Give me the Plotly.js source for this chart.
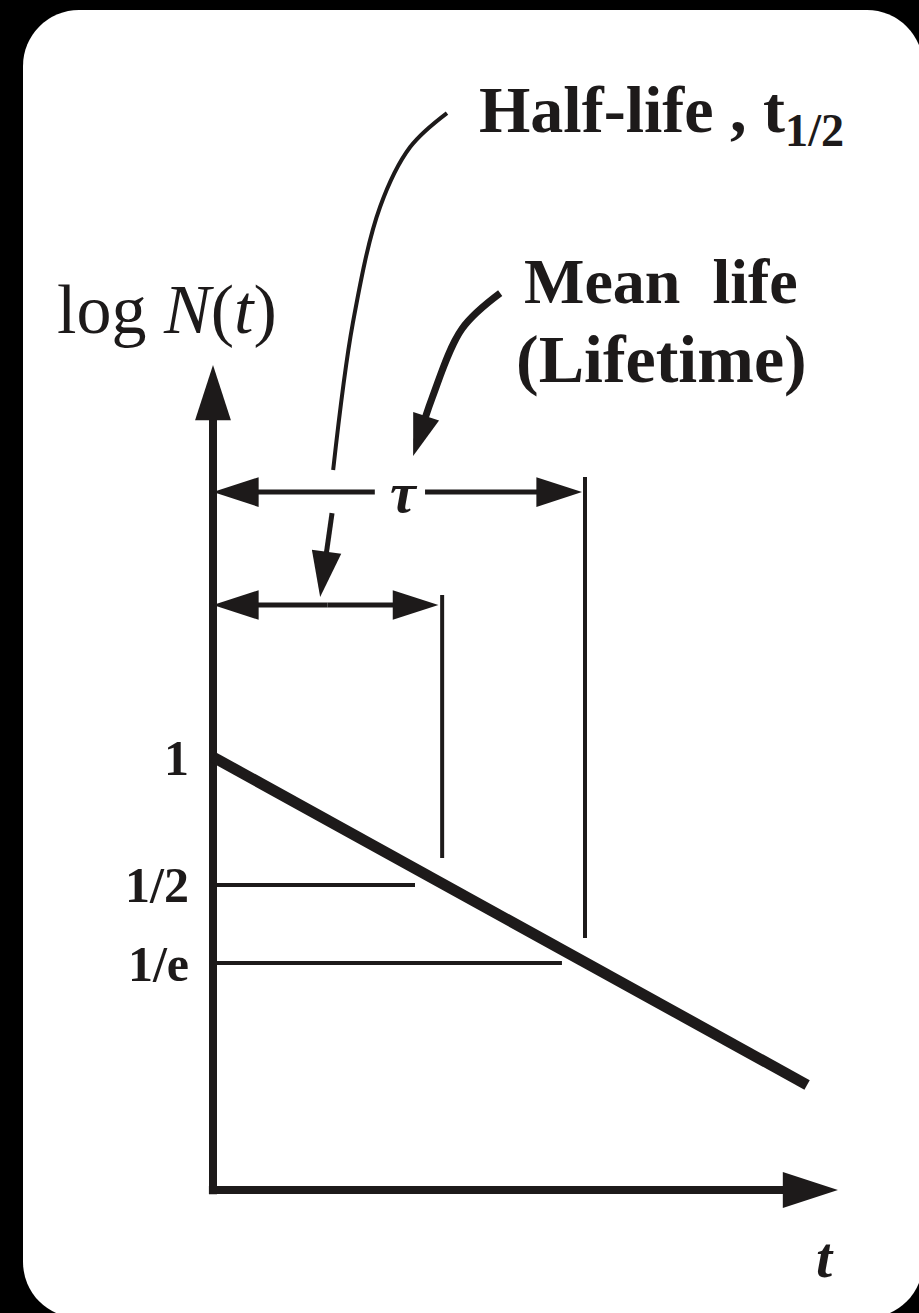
<!DOCTYPE html>
<html><head><meta charset="utf-8">
<script src="https://cdn.plot.ly/plotly-3.0.1.min.js"></script>
<style>
html,body{margin:0;padding:0;background:#000;width:919px;height:1313px;overflow:hidden;}
#card{position:absolute;left:23px;top:10px;width:900px;height:1308px;background:#fff;border-radius:56px;}
#chart{position:absolute;left:0;top:0;width:919px;height:1313px;}
</style></head><body>
<div id="card"></div><div id="chart"></div>
<script>
// ---------------- data (t in units of the mean life, y = log N as drawn) ----------------
const levelLabels = ['1', '1/2', '1/e'];
const levelValues = [0, -0.621, -1];
const halfLife = 0.616;
const meanLife = 1.0;
const decayT = [0, 1.597];
const decayLogN = [0, -1.592];
const axisEndT = 1.68;
const axisLowLogN = -2.102;
const axisTopLogN = 1.903;
const tauDimLogN = 1.286;
const tauGapT = [0.435, 0.570];
const halfDimLogN = 0.738;
const halfGuideLogN = [0.786, -0.490];
const tauGuideLogN = [1.359, -0.879];
const halfLevelEndT = 0.543;
const eLevelEndT = 0.938;
const halfLeaderT = [0.629, 0.530, 0.449, 0.376, 0.323];
const halfLeaderY = [3.126, 2.961, 2.670, 2.107, 1.393];
const halfPointerT = [0.320, 0.288];
const halfPointerY = [1.184, 0.777];
const meanLeaderT = [0.772, 0.669, 0.589, 0.538];
const meanLeaderY = [2.252, 2.078, 1.743, 1.461];

// ---------------- layout / scales ----------------
const W = 919, H = 1313;
const xRange = [-213 / 372, (W - 213) / 372];
const yRange = [(757 - H) / 206, 757 / 206];
const pxT = W / (xRange[1] - xRange[0]);
const pxY = H / (yRange[1] - yRange[0]);
const INK = '#1d1a1a';
const FONT = 'Liberation Serif, Times New Roman, serif';

function arrow(ts, ys, width, head, pull, shape) {
  const n = ts.length;
  const dt = ts[n - 1] - ts[n - 2], dy = ys[n - 1] - ys[n - 2];
  const L = Math.hypot(dt * pxT, dy * pxY);
  const f = pull / L;
  const lt = ts.slice(), ly = ys.slice();
  lt[n - 1] = ts[n - 1] - dt * f;
  ly[n - 1] = ys[n - 1] - dy * f;
  return [
    {type: 'scatter', mode: 'lines', x: lt, y: ly, hoverinfo: 'skip',
     line: {color: INK, width: width, shape: shape || 'linear'}},
    {type: 'scatter', mode: 'markers', x: [ts[n - 2], ts[n - 1]], y: [ys[n - 2], ys[n - 1]], hoverinfo: 'skip',
     marker: {symbol: 'arrow', size: [0, head], angleref: 'previous', color: INK, opacity: 1, line: {width: 0}}}
  ];
}
function seg(ts, ys, width) {
  return {type: 'scatter', mode: 'lines', x: ts, y: ys, hoverinfo: 'skip', line: {color: INK, width: width}};
}

const traces = [];
// axes
traces.push(...arrow([0, 0], [axisLowLogN - 0.02, axisTopLogN], 8, 58, 22));
traces.push(...arrow([-0.011, axisEndT], [axisLowLogN, axisLowLogN], 8, 58, 22));
// decay line
traces.push(seg(decayT, decayLogN, 11));
// level lines
traces.push(seg([0, halfLevelEndT], [levelValues[1], levelValues[1]], 4));
traces.push(seg([0, eLevelEndT], [levelValues[2], levelValues[2]], 4));
// guides
traces.push(seg([halfLife, halfLife], halfGuideLogN, 4));
traces.push(seg([meanLife, meanLife], tauGuideLogN, 4));
// tau dimension
traces.push(...arrow([tauGapT[0], 0], [tauDimLogN, tauDimLogN], 5, 48, 18));
traces.push(...arrow([tauGapT[1], meanLife - 0.008], [tauDimLogN, tauDimLogN], 5, 48, 18));
// half-life dimension
traces.push(...arrow([halfLife / 2, 0], [halfDimLogN, halfDimLogN], 5, 48, 18));
traces.push(...arrow([halfLife / 2, halfLife - 0.01], [halfDimLogN, halfDimLogN], 5, 48, 18));
// half-life leader
traces.push({type: 'scatter', mode: 'lines', x: halfLeaderT, y: halfLeaderY, hoverinfo: 'skip',
             line: {color: INK, width: 4, shape: 'spline', smoothing: 1}});
traces.push(...arrow(halfPointerT, halfPointerY, 5, 48, 18));
// mean-life leader
traces.push(...arrow(meanLeaderT, meanLeaderY, 7, 44, 16, 'spline'));

const tFont = (size, extra) => Object.assign({family: FONT, size: size, color: INK}, extra || {});
const annotations = [
  {x: -0.425, y: 2.17, xref: 'x', yref: 'y', xanchor: 'left', yanchor: 'middle', showarrow: false,
   text: 'log <i>N</i>(<i>t</i>)', font: tFont(70)},
  {x: 0.71, y: 3.12, xref: 'x', yref: 'y', xanchor: 'left', yanchor: 'middle', showarrow: false,
   text: 'Half-life , t<sub>1/2</sub>', font: tFont(66, {weight: 'bold'})},
  {x: 0.83, y: 2.31, xref: 'x', yref: 'y', xanchor: 'left', yanchor: 'middle', showarrow: false,
   text: 'Mean&nbsp; life', font: tFont(64, {weight: 'bold'})},
  {x: 0.81, y: 1.93, xref: 'x', yref: 'y', xanchor: 'left', yanchor: 'middle', showarrow: false,
   text: '(Lifetime)', font: tFont(68, {weight: 'bold'})},
  {x: 0.513, y: tauDimLogN, xref: 'x', yref: 'y', xanchor: 'center', yanchor: 'middle', showarrow: false,
   text: '<i>τ</i>', font: tFont(58, {weight: 'bold'})},
  {x: 1.645, y: -2.43, xref: 'x', yref: 'y', xanchor: 'center', yanchor: 'middle', showarrow: false,
   text: '<i>t</i>', font: tFont(58, {weight: 'bold'})}
];

const layout = {
  width: W, height: H,
  margin: {l: 0, r: 0, t: 0, b: 0},
  paper_bgcolor: 'rgba(0,0,0,0)', plot_bgcolor: 'rgba(0,0,0,0)',
  showlegend: false,
  xaxis: {range: xRange, visible: false, fixedrange: true},
  yaxis: {range: yRange, anchor: 'free', position: (0 - xRange[0]) / (xRange[1] - xRange[0]),
          showgrid: false, zeroline: false, showline: false, ticks: '',
          tickmode: 'array', tickvals: levelValues, ticktext: levelLabels, ticklabelstandoff: 24,
          tickfont: tFont(50, {weight: 'bold'}), fixedrange: true},
  annotations: annotations
};
Plotly.newPlot('chart', traces, layout, {staticPlot: true, displayModeBar: false});
</script></body></html>
